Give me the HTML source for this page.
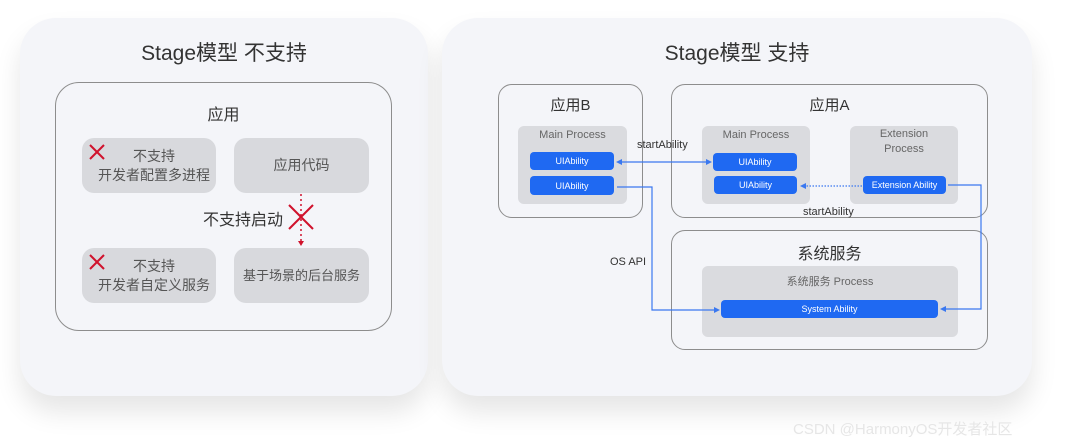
<!DOCTYPE html>
<html><head><meta charset="utf-8"><style>
*{margin:0;padding:0;box-sizing:border-box}
body{width:1080px;height:448px;background:#fff;position:relative;overflow:hidden;font-family:"Liberation Sans","Noto Sans CJK SC",sans-serif;color:#333}
.a{position:absolute}
.card{background:#f4f5f9;border-radius:36px;box-shadow:0 16px 26px rgba(0,0,0,0.10)}
.box{border:1px solid #8d8d8d;border-radius:22px}
.g{background:#d8d9dd;border-radius:12px;color:#555;font-size:14px;text-align:center;display:flex;align-items:center;justify-content:center;line-height:19px}
.gp{background:#dadbdf;border-radius:6px;color:#666;font-size:11px;text-align:center}
.b{background:#1f69f2;border-radius:4px;color:#fff;font-size:9px;text-align:center;display:flex;align-items:center;justify-content:center}
.t{font-size:11px;color:#333}
</style></head><body>
<div class="a card" style="left:20px;top:18px;width:408px;height:378px"></div>
<div class="a card" style="left:442px;top:18px;width:590px;height:378px"></div>
<div class="a" style="left:20px;top:37px;width:408px;text-align:center;font-size:21px;color:#333">Stage模型 不支持</div>
<div class="a" style="left:442px;top:37px;width:590px;text-align:center;font-size:21px;color:#333">Stage模型 支持</div>
<div class="a box" style="left:55px;top:82px;width:337px;height:249px;border-radius:24px"></div>
<div class="a" style="left:55px;top:101px;width:337px;text-align:center;font-size:16px">应用</div>
<div class="a g" style="left:82px;top:138px;width:134px;height:55px;padding-left:10px">不支持<br>开发者配置多进程</div>
<div class="a g" style="left:234px;top:138px;width:135px;height:55px">应用代码</div>
<div class="a g" style="left:82px;top:248px;width:134px;height:55px;padding-left:10px">不支持<br>开发者自定义服务</div>
<div class="a g" style="left:234px;top:248px;width:135px;height:55px;font-size:13px">基于场景的后台服务</div>
<div class="a" style="left:203px;top:206px;font-size:16px;color:#333">不支持启动</div>
<div class="a box" style="left:498px;top:84px;width:145px;height:134px;border-radius:14px"></div>
<div class="a box" style="left:671px;top:84px;width:317px;height:134px;border-radius:14px"></div>
<div class="a box" style="left:671px;top:230px;width:317px;height:120px;border-radius:14px"></div>
<div class="a" style="left:498px;top:94px;width:145px;text-align:center;font-size:15px">应用B</div>
<div class="a" style="left:671px;top:94px;width:317px;text-align:center;font-size:15px">应用A</div>
<div class="a" style="left:671px;top:240px;width:317px;text-align:center;font-size:16px">系统服务</div>
<div class="a gp" style="left:518px;top:126px;width:109px;height:78px;padding-top:3px">Main Process</div>
<div class="a gp" style="left:702px;top:126px;width:108px;height:78px;padding-top:3px">Main Process</div>
<div class="a gp" style="left:850px;top:126px;width:108px;height:78px;padding-top:1px;line-height:15px">Extension<br>Process</div>
<div class="a gp" style="left:702px;top:266px;width:256px;height:71px;padding-top:7px">系统服务 Process</div>
<div class="a b" style="left:530px;top:152px;width:84px;height:18px">UIAbility</div>
<div class="a b" style="left:530px;top:176px;width:84px;height:19px">UIAbility</div>
<div class="a b" style="left:713px;top:153px;width:84px;height:18px">UIAbility</div>
<div class="a b" style="left:714px;top:176px;width:83px;height:18px">UIAbility</div>
<div class="a b" style="left:863px;top:176px;width:83px;height:18px">Extension Ability</div>
<div class="a b" style="left:721px;top:300px;width:217px;height:18px">System Ability</div>
<div class="a t" style="left:637px;top:139px">startAbility</div>
<div class="a t" style="left:803px;top:206px">startAbility</div>
<div class="a t" style="left:610px;top:256px">OS API</div>
<svg class="a" style="left:0;top:0;z-index:5" width="1080" height="448">
<g stroke="#d0122c" stroke-width="2">
<line x1="90" y1="145" x2="104" y2="159"/><line x1="104" y1="145" x2="90" y2="159"/>
<line x1="90" y1="255" x2="104" y2="269"/><line x1="104" y1="255" x2="90" y2="269"/>
<line x1="289" y1="205" x2="313" y2="229"/><line x1="313" y1="205" x2="289" y2="229"/>
</g>
<line x1="301" y1="194" x2="301" y2="242" stroke="#d0122c" stroke-width="1.5" stroke-dasharray="2,3"/>
<path d="M298 241 L304 241 L301 246Z" fill="#d0122c"/>
<g fill="none" stroke="#3a78f0" stroke-width="1.2">
<line x1="620" y1="162" x2="708" y2="162"/>
<polyline points="617,187 652,187 652,310 716,310"/>
<polyline points="948,185 981,185 981,309 944,309"/>
<line x1="862" y1="186" x2="804" y2="186" stroke-dasharray="1.5,1.5"/>
</g>
<g fill="#3a78f0">
<path d="M616 162 L622 159 L622 165Z"/><path d="M712 162 L706 159 L706 165Z"/>
<path d="M720 310 L714 307 L714 313Z"/><path d="M940 309 L946 306 L946 312Z"/>
<path d="M800 186 L806 183 L806 189Z"/>
</g>
</svg>
<div class="a" style="left:793px;top:418px;font-size:15px;color:#e6e6e6">CSDN @HarmonyOS开发者社区</div>
</body></html>
